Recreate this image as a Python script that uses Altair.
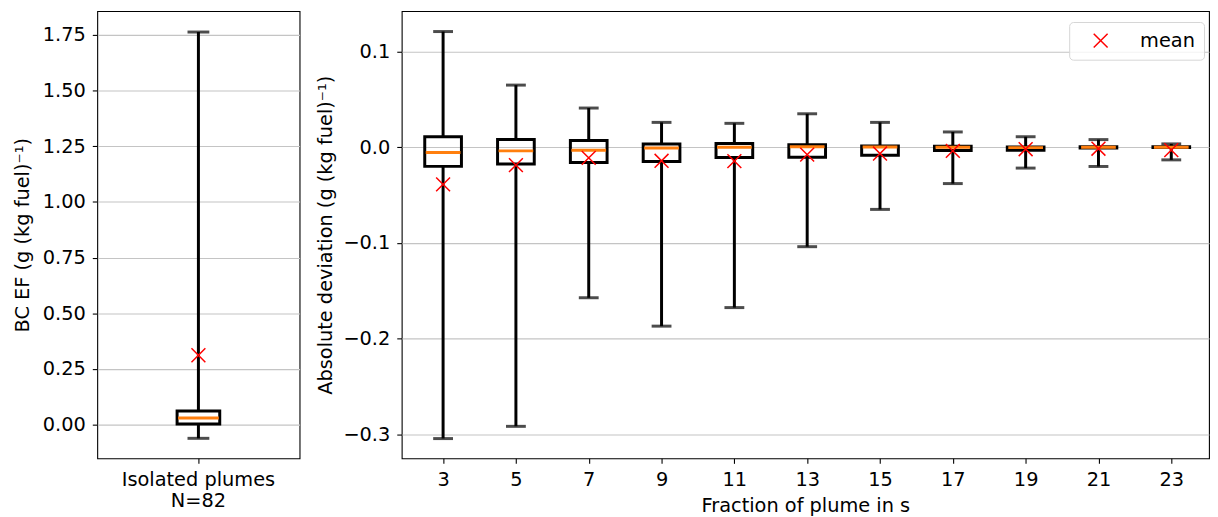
import altair as alt
import pandas as pd

# ---------------- data ----------------
# Left panel: isolated plumes
iso_label = ["Isolated plumes|N=82"]
iso_lo = [-0.061]
iso_q1 = [0.003]
iso_med = [0.030]
iso_q3 = [0.062]
iso_hi = [1.763]
iso_mean = [0.312]

# Right panel: absolute deviation by fraction of plume (s)
positions = [3, 5, 7, 9, 11, 13, 15, 17, 19, 21, 23]
whisker_hi = [0.121, 0.065, 0.041, 0.026, 0.025, 0.035, 0.026, 0.016, 0.011, 0.008, 0.0035]
box_q3 = [0.011, 0.008, 0.007, 0.0035, 0.004, 0.0027, 0.0013, 0.001, 0.0003, 0.0006, 0.0006]
box_med = [-0.0056, -0.0038, -0.0031, -0.0007, 0.0, 0.0005, 0.0003, 0.0, -0.0004, 0.0, 0.0]
box_q1 = [-0.020, -0.0176, -0.016, -0.0149, -0.0108, -0.0104, -0.0083, -0.0035, -0.0031, -0.0007, -0.0003]
whisker_lo = [-0.3047, -0.2919, -0.1574, -0.1871, -0.1677, -0.1040, -0.065, -0.038, -0.0218, -0.0201, -0.0132]
mean_dev = [-0.0388, -0.0187, -0.0111, -0.0142, -0.0145, -0.0077, -0.0066, -0.0038, -0.002, -0.0015, -0.003]

left_ticks = [0.0, 0.25, 0.5, 0.75, 1.0, 1.25, 1.5, 1.75]
right_yticks = [-0.3, -0.2, -0.1, 0.0, 0.1]

left_df = pd.DataFrame({"group": iso_label, "lo": iso_lo, "q1": iso_q1, "med": iso_med,
                        "q3": iso_q3, "hi": iso_hi, "mean": iso_mean})
right_df = pd.DataFrame({"pos": positions, "lo": whisker_lo, "q1": box_q1, "med": box_med,
                         "q3": box_q3, "hi": whisker_hi, "mean": mean_dev,
                         "series": ["mean"] * len(positions)})

FONT = "DejaVu Sans"
FS = 19.5
XSHAPE = "M-1,-1L1,1M-1,1L1,-1"
LW = 3
ORANGE = "#ff7f0e"

# ---------------- left panel ----------------
yl_scale = alt.Scale(domain=[-0.151, 1.857], nice=False, zero=False)
xl = alt.X("group:N", title=None,
           axis=alt.Axis(labelExpr="split(datum.label, '|')", labelAngle=0, labelLineHeight=22,
                         labelBaseline="top"))
yl_title = "BC EF (g (kg fuel)⁻¹)"
yl_axis = alt.Axis(values=left_ticks, format=".2f", grid=True, titlePadding=10)

bl = alt.Chart(left_df)
left = alt.layer(
    bl.mark_rule(color="black", strokeWidth=LW).encode(
        x=xl, y=alt.Y("q3:Q", scale=yl_scale, title=yl_title, axis=yl_axis), y2="hi:Q"),
    bl.mark_rule(color="black", strokeWidth=LW).encode(x=xl, y=alt.Y("lo:Q", scale=yl_scale), y2="q1:Q"),
    bl.mark_tick(orient="horizontal", color="black", size=22, thickness=LW).encode(
        x=xl, y=alt.Y("hi:Q", scale=yl_scale)),
    bl.mark_tick(orient="horizontal", color="black", size=22, thickness=LW).encode(
        x=xl, y=alt.Y("lo:Q", scale=yl_scale)),
    bl.mark_bar(size=43, fillOpacity=0, stroke="black", strokeWidth=LW).encode(
        x=xl, y=alt.Y("q1:Q", scale=yl_scale), y2="q3:Q"),
    bl.mark_tick(orient="horizontal", color=ORANGE, size=41, thickness=LW, opacity=1).encode(
        x=xl, y=alt.Y("med:Q", scale=yl_scale)),
    bl.mark_point(shape=XSHAPE, filled=False, color="red", size=196, strokeWidth=1.5, opacity=1).encode(
        x=xl, y=alt.Y("mean:Q", scale=yl_scale)),
).properties(width=204, height=451)

# ---------------- right panel ----------------
yr_scale = alt.Scale(domain=[-0.3254, 0.1424], nice=False, zero=False)
xr_scale = alt.Scale(domain=[2.0, 23.9], nice=False, zero=False)
xr = alt.X("pos:Q", scale=xr_scale, title="Fraction of plume in s",
           axis=alt.Axis(values=positions, format="d", grid=False))
yr_axis = alt.Axis(values=right_yticks, format=".1f", grid=True)

br = alt.Chart(right_df)
right = alt.layer(
    br.mark_rule(color="black", strokeWidth=LW).encode(
        x=xr, y=alt.Y("q3:Q", scale=yr_scale, title="Absolute deviation (g (kg fuel)⁻¹)", axis=yr_axis),
        y2="hi:Q"),
    br.mark_rule(color="black", strokeWidth=LW).encode(x=xr, y=alt.Y("lo:Q", scale=yr_scale), y2="q1:Q"),
    br.mark_tick(orient="horizontal", color="black", size=20, thickness=LW).encode(
        x=xr, y=alt.Y("hi:Q", scale=yr_scale)),
    br.mark_tick(orient="horizontal", color="black", size=20, thickness=LW).encode(
        x=xr, y=alt.Y("lo:Q", scale=yr_scale)),
    br.mark_bar(size=37, fillOpacity=0, stroke="black", strokeWidth=LW).encode(
        x=xr, y=alt.Y("q1:Q", scale=yr_scale), y2="q3:Q"),
    br.mark_tick(orient="horizontal", color=ORANGE, size=35, thickness=LW, opacity=1).encode(
        x=xr, y=alt.Y("med:Q", scale=yr_scale)),
    br.mark_point(shape=XSHAPE, filled=False, size=196, strokeWidth=1.5, opacity=1).encode(
        x=xr, y=alt.Y("mean:Q", scale=yr_scale),
        color=alt.Color("series:N", scale=alt.Scale(domain=["mean"], range=["red"]),
                        legend=alt.Legend(title=None, orient="none", legendX=980, legendY=11,
                                          symbolType=XSHAPE, symbolSize=196, symbolStrokeWidth=1.5,
                                          symbolFillColor="transparent", symbolStrokeColor="red",
                                          labelFont=FONT, labelFontSize=FS, labelColor="black",
                                          labelOffset=30, symbolOffset=13, padding=9,
                                          fillColor="rgba(255,255,255,0.8)", strokeColor="#d6d6d6",
                                          cornerRadius=4)),
    ),
).properties(width=814, height=451)

chart = alt.hconcat(left, right, spacing=15).properties(
    padding={"left": 4, "top": 0, "right": 0, "bottom": 0}
).configure_view(
    stroke="black", strokeWidth=1.1
).configure_axis(
    labelFont=FONT, labelFontSize=FS, labelColor="black",
    titleFont=FONT, titleFontSize=FS, titleColor="black", titleFontWeight="normal",
    tickColor="black", tickSize=5, tickWidth=1.1, labelPadding=7,
    domain=False, gridColor="#c4c4c4", gridWidth=1.1, titlePadding=7
).configure_axisX(grid=False, titlePadding=8)

chart.save("out.html", embed_options={"renderer": "svg", "actions": False})
